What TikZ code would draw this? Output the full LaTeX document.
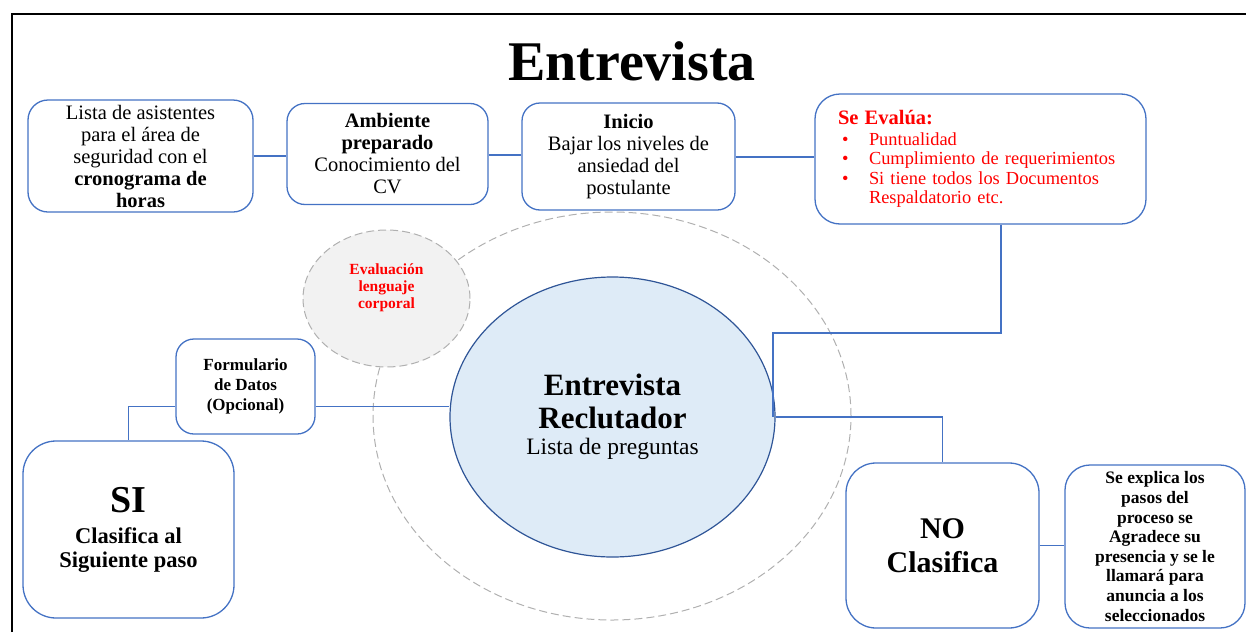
\documentclass[tikz,border=0pt]{standalone}
\usepackage{fontspec}
\setmainfont{Liberation Serif}
\usetikzlibrary{shapes.geometric}
\definecolor{bl}{HTML}{4472C4}
\definecolor{dbl}{HTML}{2F5597}
\definecolor{lbl}{HTML}{DEEBF7}
\definecolor{gr}{HTML}{B0B0B0}
\definecolor{lgr}{HTML}{F2F2F2}
\definecolor{rd}{HTML}{FF0000}
\begin{document}
\begin{tikzpicture}[x=1pt,y=-1pt,
  box/.style={draw=bl, line width=1.3pt, rounded corners=#1, align=center, inner sep=0pt, fill=white},
  box/.default=18pt,
  conn/.style={draw=bl, line width=1.2pt},
  gdash/.style={draw=gr, line width=1pt, dash pattern=on 8pt off 4pt}]
\useasboundingbox (0,0) rectangle (1246,632);
\draw[line width=2pt] (12,632) -- (12,14) -- (1246,14);
\node[font=\fontsize{56}{60}\selectfont\bfseries] (title) at (632,61) {Entrevista};
% rings
\node[gdash, ellipse, minimum width=478pt, minimum height=408pt, inner sep=0pt] (ring) at (612,416) {};
\node[gdash, ellipse, fill=lgr, minimum width=167pt, minimum height=137pt, inner sep=0pt,
  label={[yshift=11pt, text=rd, align=center, font=\fontsize{15.5}{17}\selectfont\bfseries]center:Evaluación\\lenguaje\\corporal}] (eval) at (386.5,298.5) {};
\node[ellipse, draw=dbl, fill=lbl, line width=1.2pt, minimum width=325pt, minimum height=280pt, inner sep=0pt, align=center,
  font=\fontsize{31}{33}\selectfont\bfseries] (main) at (612.5,417)
  {Entrevista\\Reclutador\\[-7pt]{\fontsize{23.5}{25}\selectfont\mdseries Lista de preguntas}};
% top boxes
\node[box=20pt, minimum width=225pt, minimum height=112pt, font=\fontsize{20.5}{22}\selectfont] (b1) at (140.5,156)
  {Lista de asistentes\\para el área de\\seguridad con el\\\textbf{cronograma de}\\\textbf{horas}};
\node[box, minimum width=201pt, minimum height=101pt, font=\fontsize{20.5}{22}\selectfont] (b2) at (387.5,154)
  {\textbf{Ambiente}\\\textbf{preparado}\\Conocimiento del\\CV};
\node[box, minimum width=213pt, minimum height=107pt, font=\fontsize{20.5}{22}\selectfont] (b3) at (628.5,156.5)
  {\textbf{Inicio}\\Bajar los niveles de\\ansiedad del\\postulante};
\node[box=25pt, minimum width=331pt, minimum height=130pt, text width=285pt, align=left, text=rd,
  font=\fontsize{18.4}{19.5}\selectfont] (b4) at (980.5,159)
  {{\fontsize{20.5}{22}\selectfont\bfseries Se Evalúa:}\\[1pt]
   \makebox[31pt][l]{\hspace{4pt}•}Puntualidad\\
   \makebox[31pt][l]{\hspace{4pt}•}Cumplimiento de requerimientos\\
   \makebox[31pt][l]{\hspace{4pt}•}Si tiene todos los Documentos\\
   \hspace*{31pt}Respaldatorio etc.};
% lower boxes
\node[box, minimum width=139pt, minimum height=95pt, font=\fontsize{17}{20}\selectfont\bfseries] (form) at (245.5,386.5)
  {Formulario\\de Datos\\(Opcional)};
\node[box=33pt, minimum width=211pt, minimum height=177pt, font=\fontsize{22.5}{24}\selectfont\bfseries] (si) at (128.5,529.5)
  {{\fontsize{38}{40}\selectfont SI}\\[7pt]Clasifica al\\Siguiente paso};
\node[box=30pt, minimum width=193pt, minimum height=165pt, font=\fontsize{30}{34}\selectfont\bfseries] (no) at (942.5,545.5)
  {NO\\Clasifica};
\node[box=25pt, minimum width=180pt, minimum height=163pt, font=\fontsize{17.5}{19.6}\selectfont\bfseries] (expl) at (1155,546.5)
  {Se explica los\\pasos del\\proceso se\\Agradece su\\presencia y se le\\llamará para\\anuncia a los\\seleccionados};
% connectors
\coordinate (j1) at (773,333);
\draw[conn] (b1.east |- 0,156) -- (b2.west |- 0,156);
\draw[conn] (b2.east |- 0,155) -- (b3.west |- 0,155);
\draw[conn] (b3.east |- 0,157) -- (b4.west |- 0,157);
\draw[conn] ([xshift=20.5pt]b4.south) |- (j1) -- (j1 |- main.east);
\draw[conn] (main.east) -| (no.north);
\draw[conn] (no.east) -- (no.east -| expl.west);
\draw[conn] ([yshift=-20pt]form.east) -- ([yshift=-20pt]form.east -| main.west);
\draw[conn] ([yshift=-20pt]form.west) -| (si.north);
\end{tikzpicture}
\end{document}
